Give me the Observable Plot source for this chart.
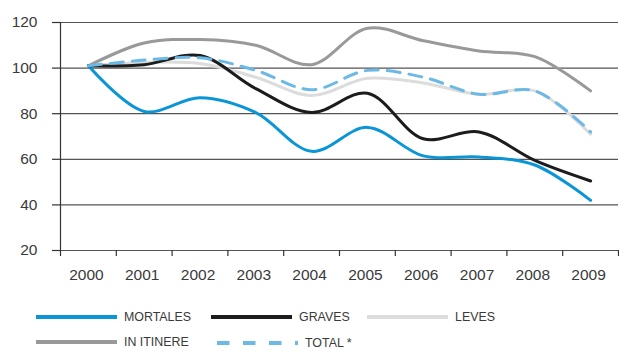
<!DOCTYPE html>
<html>
<head>
<meta charset="utf-8">
<script src="https://cdn.jsdelivr.net/npm/d3@7"></script>
<script src="https://cdn.jsdelivr.net/npm/@observablehq/plot@0.6"></script>
<style>
  html, body { margin: 0; padding: 0; background: #fff; }
  #wrap { position: relative; width: 619px; height: 351px; overflow: hidden; font-family: "Liberation Sans", Arial, sans-serif; }
  #chart { position: absolute; left: 0; top: 0; }
  .leg { position: absolute; display: flex; align-items: center; font-size: 12.4px; color: #3a3a3a; white-space: nowrap; line-height: 14px; }
  .leg svg { display: block; margin-right: 7px; }
</style>
</head>
<body>
<div id="wrap">
  <div id="chart"></div>
  <div id="legend"></div>
</div>
<script>
const years    = [2000, 2001, 2002, 2003, 2004, 2005, 2006, 2007, 2008, 2009];
const mortales = [101, 81, 87, 80.5, 63.5, 74, 61.5, 61, 57.5, 42];
const graves   = [101, 101.5, 105.5, 91, 80.5, 89, 69, 72, 59.5, 50.5];
const leves    = [101, 102.5, 102, 96, 88, 95.5, 93.5, 88.5, 90, 71];
const itinere  = [101, 111, 112.5, 110, 101.5, 117.5, 112, 107.5, 105, 90];
const total    = [101, 103.5, 104.5, 99, 90.5, 99, 96, 88.5, 90, 72];
const yTicks   = [20, 40, 60, 80, 100, 120];
const seriesNames = ["MORTALES", "GRAVES", "LEVES", "IN ITINERE", "TOTAL *"];

const colors = {
  "MORTALES": "#0a96d6",
  "GRAVES": "#1c1c1c",
  "LEVES": "#dcdcdc",
  "IN ITINERE": "#999999",
  "TOTAL *": "#6cb9e6"
};
const toRows = (name, vals) => years.map((y, i) => ({year: y, value: vals[i], series: name}));
const rows = {
  "MORTALES": toRows("MORTALES", mortales),
  "GRAVES": toRows("GRAVES", graves),
  "LEVES": toRows("LEVES", leves),
  "IN ITINERE": toRows("IN ITINERE", itinere),
  "TOTAL *": toRows("TOTAL *", total)
};
const bounds = d3.range(years[0] - 0.5, years[years.length - 1] + 1, 1);

const lineOpts = (name, extra = {}) => ({x: "year", y: "value", stroke: colors[name], strokeWidth: 3, curve: "catmull-rom", ...extra});

const plot = Plot.plot({
  width: 619,
  height: 300,
  marginTop: 22,
  marginBottom: 50,
  marginLeft: 60,
  marginRight: 1,
  style: {fontFamily: "'Liberation Sans', Arial, sans-serif", fontSize: "15.5px", color: "#3a3a3a", background: "white"},
  x: {domain: [bounds[0], bounds[bounds.length - 1]]},
  y: {domain: [20, 120]},
  marks: [
    Plot.ruleY(yTicks, {stroke: "#555", strokeWidth: 1.2}),
    Plot.ruleX([bounds[0]], {stroke: "#333", strokeWidth: 1.2}),
    Plot.axisY({ticks: yTicks, tickSize: 8, tickPadding: 15, stroke: "#333", strokeWidth: 1.2, label: null, fill: "#3a3a3a"}),
    Plot.axisX({ticks: bounds, tickSize: 6, tickFormat: () => "", stroke: "#333", strokeWidth: 1.2, label: null}),
    Plot.axisX({ticks: years, tickSize: 0, tickPadding: 18, tickFormat: d => String(d), label: null, fill: "#3a3a3a", dx: -2}),
    Plot.line(rows["LEVES"], lineOpts("LEVES")),
    Plot.line(rows["IN ITINERE"], lineOpts("IN ITINERE")),
    Plot.line(rows["MORTALES"], lineOpts("MORTALES")),
    Plot.line(rows["GRAVES"], lineOpts("GRAVES")),
    Plot.line(rows["TOTAL *"], lineOpts("TOTAL *", {strokeDasharray: "13,9"}))
  ]
});
document.getElementById("chart").appendChild(plot);

// Legend (HTML below the plot)
const legendPos = [
  {left: 36, top: 310},
  {left: 211, top: 310},
  {left: 367, top: 310},
  {left: 36, top: 335},
  {left: 217, top: 336}
];
const legend = document.getElementById("legend");
seriesNames.forEach((name, i) => {
  const p = legendPos[i];
  const div = document.createElement("div");
  div.className = "leg";
  div.style.left = p.left + "px";
  div.style.top = p.top + "px";
  const dashed = name === "TOTAL *";
  div.innerHTML = `<svg width="81" height="14"><line x1="0" x2="81" y1="7" y2="7" stroke="${colors[name]}" stroke-width="4" ${dashed ? 'stroke-dasharray="12.5,13.5"' : ''}/></svg><span>${name}</span>`;
  legend.appendChild(div);
});
</script>
</body>
</html>
